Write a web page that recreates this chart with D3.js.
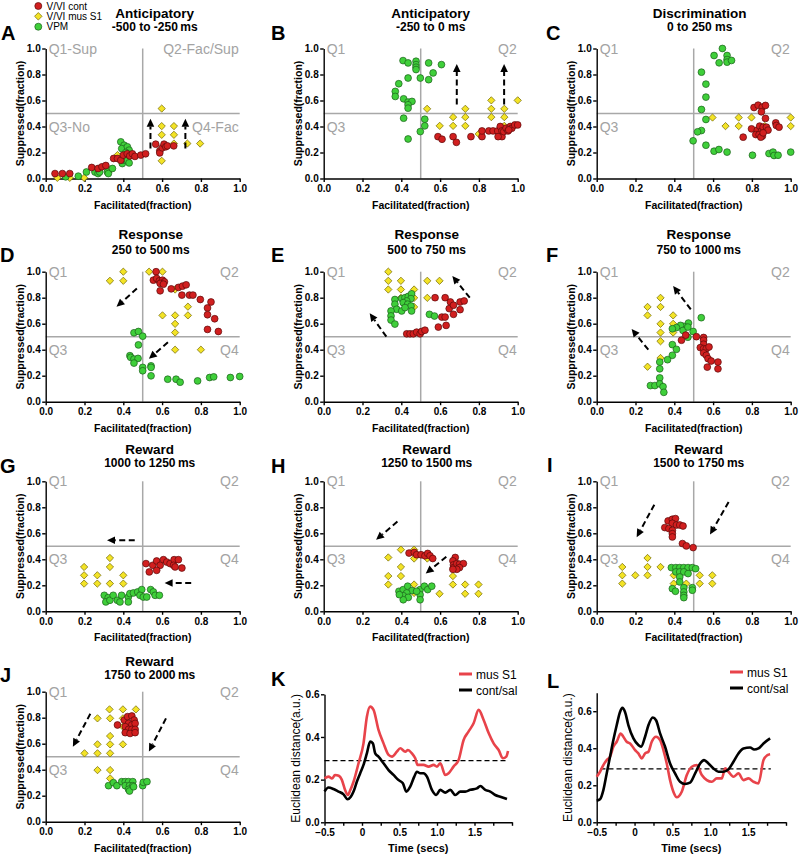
<!DOCTYPE html>
<html><head><meta charset="utf-8">
<script src="https://cdn.jsdelivr.net/npm/d3@7"></script>
<style>body{margin:0;background:#fff}svg{display:block;font-family:"Liberation Sans",Arial,sans-serif}</style>
</head><body><svg id="c" width="800" height="856"></svg>
<script>
// ---------------- DATA ----------------
const seriesNames = ["V/VI cont", "V/VI mus S1", "VPM"];
const lineNames = ["mus S1", "cont/sal"];
const fracTicks = [0, 0.2, 0.4, 0.6, 0.8, 1.0];
const timeTicks = [-0.5, 0, 0.5, 1.0, 1.5];

// Panel A  (-500 to -250 ms)
const aRed = [[0.048,0.038],[0.086,0.038],[0.124,0.038],[0.237,0.085],[0.27,0.077],[0.29,0.09],[0.31,0.10],[0.35,0.154],[0.37,0.154],[0.387,0.14],[0.40,0.18],[0.42,0.19],[0.433,0.174],[0.447,0.19],[0.46,0.17],[0.49,0.18],[0.515,0.19],[0.567,0.264],[0.588,0.213],[0.588,0.197],[0.601,0.236],[0.61,0.264],[0.619,0.244],[0.627,0.251],[0.66,0.251]];
const aYellow = [[0.06,0.005],[0.124,0.005],[0.198,0.005],[0.27,0.07],[0.33,0.06],[0.37,0.18],[0.598,0.538],[0.598,0.403],[0.598,0.336],[0.598,0.136],[0.661,0.403],[0.661,0.336],[0.661,0.269],[0.73,0.269],[0.796,0.269]];
const aGreen = [[0.103,0.013],[0.168,0.018],[0.21,0.05],[0.254,0.05],[0.27,0.038],[0.278,0.05],[0.318,0.05],[0.323,0.038],[0.344,0.077],[0.387,0.282],[0.404,0.256],[0.392,0.23],[0.421,0.244],[0.43,0.218],[0.395,0.115],[0.404,0.141],[0.421,0.141],[0.43,0.12],[0.413,0.2]];
const aArrows = [[0.54,0.23,0.54,0.46],[0.72,0.23,0.72,0.46]];

// Panel B (-250 to 0 ms)
const bRed = [[0.589,0.322],[0.61,0.302],[0.667,0.322],[0.684,0.278],[0.759,0.322],[0.816,0.322],[0.816,0.366],[0.851,0.366],[0.873,0.366],[0.897,0.366],[0.91,0.40],[0.919,0.366],[0.919,0.322],[0.928,0.361],[0.94,0.387],[0.95,0.366],[0.962,0.40],[0.97,0.387],[0.985,0.412],[1.0,0.412],[0.899,0.322],[0.954,0.374]];
const bYellow = [[0.533,0.536],[0.598,0.405],[0.667,0.472],[0.667,0.405],[0.73,0.536],[0.73,0.472],[0.73,0.405],[0.799,0.343],[0.864,0.601],[0.864,0.536],[0.864,0.472],[0.931,0.536],[0.931,0.472],[0.931,0.405],[1.0,0.601]];
const bGreen = [[0.409,0.907],[0.435,0.889],[0.476,0.902],[0.476,0.876],[0.476,0.856],[0.476,0.838],[0.541,0.889],[0.607,0.876],[0.564,0.812],[0.541,0.76],[0.498,0.773],[0.435,0.773],[0.387,0.729],[0.369,0.67],[0.369,0.631],[0.412,0.613],[0.435,0.588],[0.455,0.593],[0.435,0.567],[0.435,0.541],[0.412,0.464],[0.521,0.456],[0.521,0.405],[0.498,0.361],[0.435,0.304]];
const bArrows = [[0.686,0.57,0.686,0.88],[0.93,0.57,0.93,0.88]];

// Panel C (0 to 250 ms)
const cRed = [[0.755,0.318],[0.798,0.382],[0.811,0.546],[0.832,0.564],[0.853,0.549],[0.87,0.562],[0.849,0.513],[0.87,0.462],[0.828,0.372],[0.84,0.403],[0.849,0.364],[0.858,0.395],[0.875,0.395],[0.883,0.372],[0.82,0.338],[0.837,0.338],[0.854,0.326],[0.846,0.318],[0.858,0.351],[0.923,0.428],[0.926,0.408],[0.94,0.395]];
const cYellow = [[0.597,0.469],[0.664,0.403],[0.732,0.469],[0.732,0.403],[0.798,0.469],[0.866,0.403],[1.0,0.469],[1.0,0.403]];
const cGreen = [[0.648,1.0],[0.605,0.946],[0.631,0.89],[0.672,0.946],[0.672,0.915],[0.672,0.895],[0.695,0.908],[0.54,0.818],[0.563,0.726],[0.563,0.626],[0.54,0.531],[0.563,0.454],[0.54,0.369],[0.52,0.359],[0.497,0.29],[0.563,0.256],[0.605,0.21],[0.63,0.223],[0.672,0.203],[0.803,0.179],[0.888,0.192],[0.909,0.203],[0.914,0.177],[0.935,0.179],[1.0,0.203]];
const cArrows = [];

// Panel D (250 to 500 ms)
const dRed = [[0.569,1.0],[0.555,0.935],[0.572,0.948],[0.586,0.93],[0.602,0.935],[0.612,0.922],[0.59,0.91],[0.607,0.904],[0.59,0.853],[0.647,0.868],[0.684,0.879],[0.705,0.889],[0.724,0.899],[0.702,0.82],[0.741,0.82],[0.759,0.82],[0.797,0.786],[0.852,0.767],[0.834,0.721],[0.834,0.669],[0.871,0.638],[0.834,0.556],[0.89,0.54]];
const dYellow = [[0.331,0.93],[0.4,1.0],[0.4,0.93],[0.533,1.0],[0.602,1.0],[0.602,0.93],[0.667,0.863],[0.602,0.664],[0.667,0.664],[0.667,0.599],[0.667,0.532],[0.733,0.731],[0.733,0.664],[0.667,0.40],[0.8,0.40]];
const dGreen = [[0.455,0.53],[0.478,0.54],[0.5,0.504],[0.478,0.437],[0.434,0.354],[0.438,0.341],[0.455,0.328],[0.476,0.333],[0.455,0.297],[0.5,0.264],[0.5,0.238],[0.543,0.276],[0.543,0.264],[0.543,0.199],[0.629,0.173],[0.672,0.173],[0.693,0.15],[0.783,0.16],[0.845,0.186],[0.866,0.191],[0.952,0.186],[1.0,0.194]];
const dArrows = [[0.47,0.87,0.365,0.73],[0.63,0.457,0.532,0.33]];

// Panel E (500 to 750 ms)
const eRed = [[0.428,0.522],[0.445,0.522],[0.462,0.522],[0.479,0.535],[0.497,0.522],[0.505,0.54],[0.522,0.55],[0.574,0.80],[0.626,0.80],[0.591,0.574],[0.609,0.651],[0.626,0.651],[0.631,0.587],[0.647,0.716],[0.653,0.767],[0.669,0.742],[0.669,0.672],[0.703,0.767],[0.703,0.708],[0.724,0.775]];
const eYellow = [[0.333,1.0],[0.333,0.93],[0.333,0.863],[0.398,0.93],[0.398,0.863],[0.398,0.799],[0.466,0.863],[0.466,0.799],[0.466,0.729],[0.534,0.93],[0.597,0.93],[0.534,0.799],[0.428,0.794]];
const eGreen = [[0.367,0.786],[0.402,0.793],[0.419,0.80],[0.436,0.81],[0.453,0.83],[0.45,0.793],[0.428,0.775],[0.41,0.762],[0.433,0.75],[0.45,0.736],[0.367,0.75],[0.376,0.711],[0.402,0.698],[0.419,0.724],[0.347,0.698],[0.347,0.66],[0.347,0.628],[0.367,0.597],[0.453,0.698],[0.545,0.672],[0.571,0.659]];
const eArrows = [[0.323,0.50,0.237,0.68],[0.753,0.80,0.663,0.967]];

// Panel F (750 to 1000 ms)
const fRed = [[0.437,0.473],[0.459,0.512],[0.514,0.5],[0.551,0.494],[0.551,0.473],[0.551,0.442],[0.534,0.416],[0.551,0.408],[0.565,0.408],[0.551,0.375],[0.565,0.357],[0.574,0.331],[0.59,0.313],[0.57,0.266],[0.625,0.305],[0.625,0.253],[0.579,0.421]];
const fYellow = [[0.262,0.729],[0.262,0.664],[0.329,0.799],[0.329,0.729],[0.329,0.599],[0.329,0.532],[0.329,0.465],[0.329,0.336],[0.394,0.664],[0.394,0.599],[0.394,0.532],[0.262,0.269]];
const fGreen = [[0.539,0.646],[0.473,0.605],[0.449,0.58],[0.432,0.587],[0.411,0.57],[0.39,0.561],[0.445,0.548],[0.47,0.574],[0.497,0.54],[0.47,0.496],[0.39,0.439],[0.411,0.403],[0.39,0.357],[0.365,0.323],[0.325,0.305],[0.325,0.253],[0.325,0.183],[0.277,0.124],[0.3,0.124],[0.325,0.137],[0.342,0.116],[0.346,0.072]];
const fArrows = [[0.266,0.40,0.18,0.56],[0.485,0.71,0.394,0.89]];

// Panel G (1000 to 1250 ms)
const gRed = [[0.517,0.367],[0.534,0.303],[0.552,0.354],[0.572,0.387],[0.59,0.354],[0.572,0.315],[0.607,0.397],[0.624,0.379],[0.641,0.367],[0.662,0.397],[0.659,0.354],[0.684,0.397],[0.667,0.341],[0.702,0.333]];
const gYellow = [[0.198,0.341],[0.198,0.277],[0.198,0.213],[0.266,0.277],[0.266,0.213],[0.331,0.41],[0.331,0.341],[0.331,0.213],[0.4,0.277],[0.4,0.213]];
const gGreen = [[0.302,0.123],[0.322,0.105],[0.31,0.072],[0.331,0.085],[0.348,0.123],[0.369,0.085],[0.391,0.123],[0.383,0.072],[0.426,0.11],[0.434,0.136],[0.452,0.141],[0.474,0.149],[0.495,0.167],[0.486,0.123],[0.503,0.11],[0.521,0.11],[0.541,0.167],[0.555,0.149],[0.564,0.123],[0.586,0.123],[0.426,0.072]];
const gArrows = [[0.459,0.546,0.316,0.546],[0.75,0.218,0.613,0.218]];

// Panel H (1250 to 1500 ms)
const hRed = [[0.44,0.448],[0.467,0.453],[0.479,0.435],[0.502,0.435],[0.522,0.427],[0.536,0.445],[0.548,0.427],[0.562,0.406],[0.678,0.414],[0.666,0.388],[0.669,0.357],[0.669,0.336],[0.686,0.367],[0.7,0.362],[0.72,0.367],[0.7,0.336],[0.686,0.323],[0.666,0.323]];
const hYellow = [[0.333,0.414],[0.398,0.474],[0.466,0.474],[0.466,0.406],[0.534,0.406],[0.333,0.271],[0.398,0.341],[0.398,0.271],[0.333,0.206],[0.466,0.206],[0.466,0.141],[0.597,0.135],[0.666,0.271],[0.666,0.206],[0.729,0.206],[0.729,0.135],[0.798,0.206],[0.798,0.135]];
const hGreen = [[0.388,0.154],[0.41,0.167],[0.433,0.193],[0.455,0.159],[0.428,0.141],[0.41,0.12],[0.436,0.107],[0.41,0.089],[0.497,0.167],[0.519,0.193],[0.536,0.167],[0.557,0.193],[0.497,0.128],[0.497,0.089],[0.479,0.154],[0.39,0.128]];
const hArrows = [[0.38,0.69,0.27,0.55],[0.632,0.42,0.526,0.29]];

// Panel I (1500 to 1750 ms)
const iRed = [[0.351,0.644],[0.368,0.695],[0.39,0.708],[0.406,0.713],[0.39,0.677],[0.411,0.664],[0.428,0.664],[0.445,0.656],[0.372,0.636],[0.39,0.623],[0.39,0.597],[0.39,0.572],[0.442,0.521],[0.462,0.503],[0.497,0.49]];
const iYellow = [[0.132,0.341],[0.132,0.277],[0.132,0.213],[0.199,0.277],[0.262,0.41],[0.262,0.341],[0.262,0.277],[0.329,0.341],[0.397,0.277],[0.397,0.213],[0.462,0.213],[0.531,0.277],[0.531,0.213],[0.596,0.277],[0.596,0.213]];
const iGreen = [[0.385,0.336],[0.408,0.336],[0.428,0.336],[0.449,0.336],[0.471,0.336],[0.493,0.336],[0.51,0.328],[0.408,0.303],[0.428,0.303],[0.449,0.303],[0.471,0.29],[0.428,0.264],[0.428,0.226],[0.39,0.174],[0.406,0.154],[0.449,0.182],[0.449,0.149],[0.449,0.123],[0.449,0.105],[0.493,0.182],[0.493,0.162]];
const iArrows = [[0.297,0.82,0.206,0.57],[0.68,0.84,0.584,0.59]];

// Panel J (1750 to 2000 ms)
const jRed = [[0.37,0.744],[0.405,0.782],[0.422,0.808],[0.444,0.813],[0.456,0.782],[0.427,0.756],[0.444,0.744],[0.461,0.756],[0.41,0.731],[0.427,0.71],[0.444,0.71],[0.461,0.71],[0.41,0.685],[0.435,0.679],[0.461,0.685]];
const jYellow = [[0.329,0.864],[0.398,0.864],[0.465,0.864],[0.267,0.795],[0.332,0.795],[0.398,0.795],[0.332,0.659],[0.398,0.731],[0.267,0.595],[0.332,0.595],[0.398,0.595],[0.2,0.526],[0.267,0.526],[0.332,0.526],[0.267,0.397],[0.332,0.397],[0.332,0.333]];
const jGreen = [[0.324,0.277],[0.349,0.3],[0.367,0.277],[0.392,0.308],[0.41,0.308],[0.427,0.308],[0.449,0.308],[0.41,0.277],[0.432,0.277],[0.449,0.277],[0.427,0.249],[0.432,0.236],[0.453,0.269],[0.5,0.277],[0.503,0.303],[0.522,0.308]];
const jArrows = [[0.23,0.83,0.14,0.577],[0.62,0.795,0.532,0.54]];

// Panel K lines (time secs, distance)
const kMus = [[-0.5,0.206],[-0.447,0.214],[-0.4,0.205],[-0.36,0.222],[-0.31,0.218],[-0.27,0.2],[-0.224,0.15],[-0.19,0.128],[-0.157,0.15],[-0.113,0.19],[-0.046,0.277],[0.02,0.37],[0.065,0.495],[0.109,0.542],[0.154,0.527],[0.22,0.433],[0.287,0.37],[0.354,0.316],[0.4,0.308],[0.465,0.331],[0.51,0.347],[0.577,0.331],[0.612,0.339],[0.665,0.323],[0.71,0.3],[0.74,0.269],[0.82,0.269],[0.888,0.261],[0.955,0.269],[1.0,0.261],[1.044,0.277],[1.11,0.222],[1.155,0.23],[1.22,0.261],[1.288,0.292],[1.355,0.386],[1.42,0.425],[1.488,0.464],[1.555,0.527],[1.622,0.48],[1.69,0.417],[1.755,0.37],[1.822,0.339],[1.88,0.3],[1.924,0.308],[1.947,0.334]];
const kCont = [[-0.5,0.144],[-0.447,0.163],[-0.38,0.156],[-0.313,0.144],[-0.246,0.131],[-0.193,0.108],[-0.149,0.12],[-0.113,0.144],[-0.069,0.19],[-0.024,0.23],[0.02,0.269],[0.065,0.323],[0.109,0.378],[0.145,0.37],[0.176,0.323],[0.22,0.308],[0.287,0.277],[0.354,0.245],[0.42,0.222],[0.487,0.198],[0.545,0.183],[0.59,0.144],[0.643,0.167],[0.697,0.214],[0.732,0.237],[0.777,0.23],[0.82,0.23],[0.866,0.214],[0.932,0.152],[0.99,0.128],[1.044,0.152],[1.11,0.139],[1.177,0.152],[1.244,0.128],[1.31,0.144],[1.377,0.144],[1.444,0.152],[1.533,0.159],[1.577,0.17],[1.644,0.152],[1.71,0.144],[1.777,0.128],[1.844,0.12],[1.933,0.109]];
const kThreshold = [[-0.5,0.289],[1.95,0.289]];

// Panel L lines
const lMus = [[-0.5,0.246],[-0.456,0.273],[-0.412,0.309],[-0.368,0.336],[-0.324,0.354],[-0.28,0.408],[-0.236,0.435],[-0.183,0.48],[-0.148,0.462],[-0.104,0.435],[-0.059,0.426],[0.007,0.39],[0.05,0.372],[0.095,0.345],[0.139,0.372],[0.183,0.381],[0.227,0.435],[0.284,0.462],[0.337,0.444],[0.381,0.39],[0.425,0.318],[0.469,0.228],[0.522,0.156],[0.557,0.135],[0.623,0.165],[0.69,0.255],[0.756,0.3],[0.822,0.309],[0.888,0.255],[0.954,0.228],[1.02,0.219],[1.086,0.237],[1.152,0.237],[1.196,0.291],[1.24,0.273],[1.306,0.246],[1.372,0.264],[1.438,0.228],[1.504,0.237],[1.57,0.219],[1.636,0.21],[1.703,0.336],[1.755,0.363],[1.79,0.368]];
const lCont = [[-0.5,0.117],[-0.456,0.124],[-0.412,0.174],[-0.368,0.264],[-0.324,0.354],[-0.28,0.444],[-0.236,0.524],[-0.192,0.596],[-0.161,0.618],[-0.126,0.596],[-0.081,0.524],[-0.015,0.453],[0.05,0.417],[0.086,0.408],[0.139,0.462],[0.183,0.524],[0.24,0.566],[0.284,0.551],[0.337,0.48],[0.403,0.408],[0.469,0.318],[0.535,0.264],[0.601,0.219],[0.667,0.207],[0.733,0.214],[0.8,0.264],[0.866,0.318],[0.918,0.336],[0.976,0.318],[1.042,0.291],[1.108,0.273],[1.174,0.273],[1.24,0.286],[1.306,0.327],[1.372,0.372],[1.438,0.399],[1.526,0.404],[1.579,0.393],[1.636,0.399],[1.703,0.426],[1.79,0.453]];
const lThreshold = [[-0.45,0.289],[1.8,0.289]];

// ---------------- DRAWING ----------------
const svg = d3.select("#c");
const COLS = [45.7, 323.7, 596.7], PW = 194;
const ROWS = [48.5, 271.7, 481.3, 691.7], PH = 130;
const C_RED = "#d11f1f", C_RED_S = "#5a0a0a";
const C_YEL = "#f3e326", C_YEL_S = "#6f6400";
const C_GRN = "#3fcf3a", C_GRN_S = "#1b5e1b";
const C_Q = "#a3a3a3";

const panels = [
  {L:"A", col:0,row:0, t:"Anticipatory", s:"-500 to -250\u2009ms", red:aRed, yel:aYellow, grn:aGreen, arr:aArrows, q:["Q1-Sup","Q2-Fac/Sup","Q3-No","Q4-Fac"], tdx:12},
  {L:"B", col:1,row:0, t:"Anticipatory", s:"-250 to 0 ms", red:bRed, yel:bYellow, grn:bGreen, arr:bArrows, q:["Q1","Q2","Q3",null], tdx:10},
  {L:"C", col:2,row:0, t:"Discrimination", s:"0 to  250 ms", red:cRed, yel:cYellow, grn:cGreen, arr:cArrows, q:["Q1","Q2","Q3",null], tdx:6},
  {L:"D", col:0,row:1, t:"Response", s:"250 to 500\u2009ms", red:dRed, yel:dYellow, grn:dGreen, arr:dArrows, q:["Q1","Q2","Q3","Q4"], tdx:8},
  {L:"E", col:1,row:1, t:"Response", s:"500 to 750 ms", red:eRed, yel:eYellow, grn:eGreen, arr:eArrows, q:["Q1","Q2","Q3","Q4"], tdx:6},
  {L:"F", col:2,row:1, t:"Response", s:"750 to 1000\u2009ms", red:fRed, yel:fYellow, grn:fGreen, arr:fArrows, q:["Q1","Q2","Q3","Q4"], tdx:5},
  {L:"G", col:0,row:2, t:"Reward", s:"1000 to 1250\u2009ms", red:gRed, yel:gYellow, grn:gGreen, arr:gArrows, q:["Q1","Q2","Q3","Q4"], tdx:7},
  {L:"H", col:1,row:2, t:"Reward", s:"1250 to 1500\u2009ms", red:hRed, yel:hYellow, grn:hGreen, arr:hArrows, q:["Q1","Q2","Q3","Q4"], tdx:6},
  {L:"I", col:2,row:2, t:"Reward", s:"1500 to 1750\u2009ms", red:iRed, yel:iYellow, grn:iGreen, arr:iArrows, q:["Q1","Q2","Q3","Q4"], tdx:5},
  {L:"J", col:0,row:3, t:"Reward", s:"1750 to 2000\u2009ms", red:jRed, yel:jYellow, grn:jGreen, arr:jArrows, q:["Q1","Q2","Q3","Q4"], tdx:7}
];
const letterPos = {A:[1,40],B:[271,40],C:[546,40],D:[0,262],E:[271,262],F:[546,262],G:[0,473],H:[271,473],I:[547,472],J:[0,682],K:[271,686],L:[547,688]};
const titleY = [[17.5,31],[239,253.5],[454,467],[665.5,678.5]];

function styleAxis(g){
  g.select(".domain").attr("stroke","#000").attr("stroke-width",1.4);
  g.selectAll(".tick line").attr("stroke","#000").attr("stroke-width",1.4);
  g.selectAll(".tick text").attr("font-size",10).attr("font-weight","bold").attr("fill","#000")
    .attr("font-family",'"Liberation Sans", Arial, sans-serif');
}

function arrow(g, x1, y1, x2, y2){
  const ang = Math.atan2(y2-y1, x2-x1), hl = 8, hw = 3.8;
  const bx = x2 - hl*Math.cos(ang), by = y2 - hl*Math.sin(ang);
  g.append("line").attr("x1",x1).attr("y1",y1).attr("x2",bx).attr("y2",by)
    .attr("stroke","#000").attr("stroke-width",2).attr("stroke-dasharray","6,3.5");
  const px = -Math.sin(ang), py = Math.cos(ang);
  g.append("path").attr("d",`M${x2},${y2}L${bx+px*hw},${by+py*hw}L${bx-px*hw},${by-py*hw}Z`).attr("fill","#000");
}

function letter(L){
  const p = letterPos[L];
  svg.append("text").attr("x",p[0]).attr("y",p[1]).text(L)
    .attr("font-size",20).attr("font-weight","bold");
}

panels.forEach(p => {
  const x0 = COLS[p.col], y0 = ROWS[p.row];
  const x = d3.scaleLinear().domain([0,1]).range([x0, x0+PW]);
  const y = d3.scaleLinear().domain([0,1]).range([y0+PH, y0]);
  const g = svg.append("g");
  // reference lines
  g.append("line").attr("x1",x(0.5)).attr("x2",x(0.5)).attr("y1",y(0)).attr("y2",y(1)).attr("stroke","#a8a8a8").attr("stroke-width",1.5);
  g.append("line").attr("x1",x(0)).attr("x2",x(1)).attr("y1",y(0.5)).attr("y2",y(0.5)).attr("stroke","#a8a8a8").attr("stroke-width",1.5);
  // quadrant labels
  const qs = [[p.q[0], x(0)+3, y(1)+5, "start"],[p.q[1], x(1)-1, y(1)+5, "end"],[p.q[2], x(0)+3, y(0.4)+5, "start"],[p.q[3], x(1)-1, y(0.4)+5, "end"]];
  qs.forEach(q => { if(q[0]) g.append("text").attr("x",q[1]).attr("y",q[2]).attr("text-anchor",q[3]).attr("font-size",14).attr("fill",C_Q).text(q[0]); });
  // axes
  g.append("g").attr("transform",`translate(0,${y(0)})`).call(d3.axisBottom(x).tickValues(fracTicks).tickFormat(d3.format(".1f")).tickSize(3.5).tickPadding(3).tickSizeOuter(0)).call(styleAxis);
  g.append("g").attr("transform",`translate(${x(0)},0)`).call(d3.axisLeft(y).tickValues(fracTicks).tickFormat(d3.format(".1f")).tickSize(3.5).tickPadding(1.5).tickSizeOuter(0)).call(styleAxis);
  g.append("text").attr("x",(x(0)+x(1))/2).attr("y",y(0)+30).attr("text-anchor","middle").attr("font-size",10.5).attr("font-weight","bold").text("Facilitated(fraction)");
  g.append("text").attr("transform",`translate(${x(0)-21.5},${(y(0)+y(1))/2}) rotate(-90)`).attr("text-anchor","middle").attr("font-size",10.5).attr("font-weight","bold").text("Suppressed(fraction)");
  // points
  g.selectAll(".yel").data(p.yel).enter().append("path")
    .attr("d", d3.symbol().type(d3.symbolDiamond2).size(34))
    .attr("transform", d => `translate(${x(d[0])},${y(d[1])})`)
    .attr("fill",C_YEL).attr("stroke",C_YEL_S).attr("stroke-width",0.7);
  g.selectAll(".grn").data(p.grn).enter().append("circle")
    .attr("cx",d=>x(d[0])).attr("cy",d=>y(d[1])).attr("r",3.4)
    .attr("fill",C_GRN).attr("stroke",C_GRN_S).attr("stroke-width",0.7);
  g.selectAll(".red").data(p.red).enter().append("circle")
    .attr("cx",d=>x(d[0])).attr("cy",d=>y(d[1])).attr("r",3.4)
    .attr("fill",C_RED).attr("stroke",C_RED_S).attr("stroke-width",0.7);
  // arrows
  p.arr.forEach(a => arrow(g, x(a[0]), y(a[1]), x(a[2]), y(a[3])));
  // titles
  const cx = (x(0)+x(1))/2 + p.tdx;
  g.append("text").attr("x",cx).attr("y",titleY[p.row][0]).attr("text-anchor","middle").attr("font-size",13.5).attr("font-weight","bold").text(p.t);
  g.append("text").attr("x",cx).attr("y",titleY[p.row][1]).attr("text-anchor","middle").attr("font-size",12).attr("font-weight","bold").text(p.s);
  letter(p.L);
});

// legend (top-left)
const lg = svg.append("g");
[[C_RED,C_RED_S,"circle"],[C_YEL,C_YEL_S,"diamond"],[C_GRN,C_GRN_S,"circle"]].forEach((c,i)=>{
  const yy = [6, 16.3, 26.7][i];
  if(c[2]==="circle") lg.append("circle").attr("cx",38.3).attr("cy",yy).attr("r",3.5).attr("fill",c[0]).attr("stroke",c[1]).attr("stroke-width",0.7);
  else lg.append("path").attr("d",d3.symbol().type(d3.symbolDiamond2).size(36)).attr("transform",`translate(38.3,${yy})`).attr("fill",c[0]).attr("stroke",c[1]).attr("stroke-width",0.7);
  lg.append("text").attr("x",46.5).attr("y",yy+3.6).attr("font-size",10).text(seriesNames[i]);
});

// line panels
function linePanel(L, left, right, ymax, yTop, yTickVals, mus, cont, thr, legX, legY){
  const x = d3.scaleLinear().domain([-0.5,2.0]).range([left,right]);
  const y = d3.scaleLinear().domain([0,ymax]).range([822.3, yTop]);
  const g = svg.append("g");
  const xa = d3.axisBottom(x).tickValues(d3.range(-0.5,2.01,0.25)).tickFormat(d => timeTicks.some(t=>Math.abs(t-d)<1e-6) ? (d===0?"0":d3.format(".1f")(d)) : "").tickSize(3.5).tickPadding(3).tickSizeOuter(0);
  g.append("g").attr("transform",`translate(0,${y(0)})`).call(xa).call(styleAxis);
  g.append("g").attr("transform",`translate(${x(-0.5)},0)`).call(d3.axisLeft(y).tickValues(yTickVals).tickFormat(d3.format(".1f")).tickSize(3.5).tickPadding(1.5).tickSizeOuter(0)).call(styleAxis);
  const line = d3.line().x(d=>x(d[0])).y(d=>y(d[1])).curve(d3.curveMonotoneX);
  g.append("path").datum(thr).attr("d",d3.line().x(d=>x(d[0])).y(d=>y(d[1]))).attr("stroke","#000").attr("stroke-width",1.3).attr("stroke-dasharray","5,3").attr("fill","none");
  g.append("path").datum(mus).attr("d",line).attr("stroke","#e8434a").attr("stroke-width",2.6).attr("fill","none");
  g.append("path").datum(cont).attr("d",line).attr("stroke","#000").attr("stroke-width",2.6).attr("fill","none");
  g.append("text").attr("x",(x(-0.5)+x(2))/2).attr("y",852).attr("text-anchor","middle").attr("font-size",11).attr("font-weight","bold").text("Time (secs)");
  g.append("text").attr("transform",`translate(${x(-0.5)-25},${(y(0)+y(ymax))/2}) rotate(-90)`).attr("text-anchor","middle").attr("font-size",12).text("Euclidean distance(a.u.)");
  // legend
  [["#e8434a",lineNames[0]],["#000",lineNames[1]]].forEach((c,i)=>{
    const yy = legY + i*16;
    g.append("line").attr("x1",legX).attr("x2",legX+13).attr("y1",yy).attr("y2",yy).attr("stroke",c[0]).attr("stroke-width",3);
    g.append("text").attr("x",legX+17).attr("y",yy+4.5).attr("font-size",12).text(c[1]);
  });
  letter(L);
}
linePanel("K", 324.5, 512, 0.6, 694.3, [0,0.2,0.4,0.6], kMus, kCont, kThreshold, 459, 674);
linePanel("L", 596.7, 786, 0.7, 692.7, [0,0.2,0.4,0.6], lMus, lCont, lThreshold, 730, 672);
</script></body></html>
